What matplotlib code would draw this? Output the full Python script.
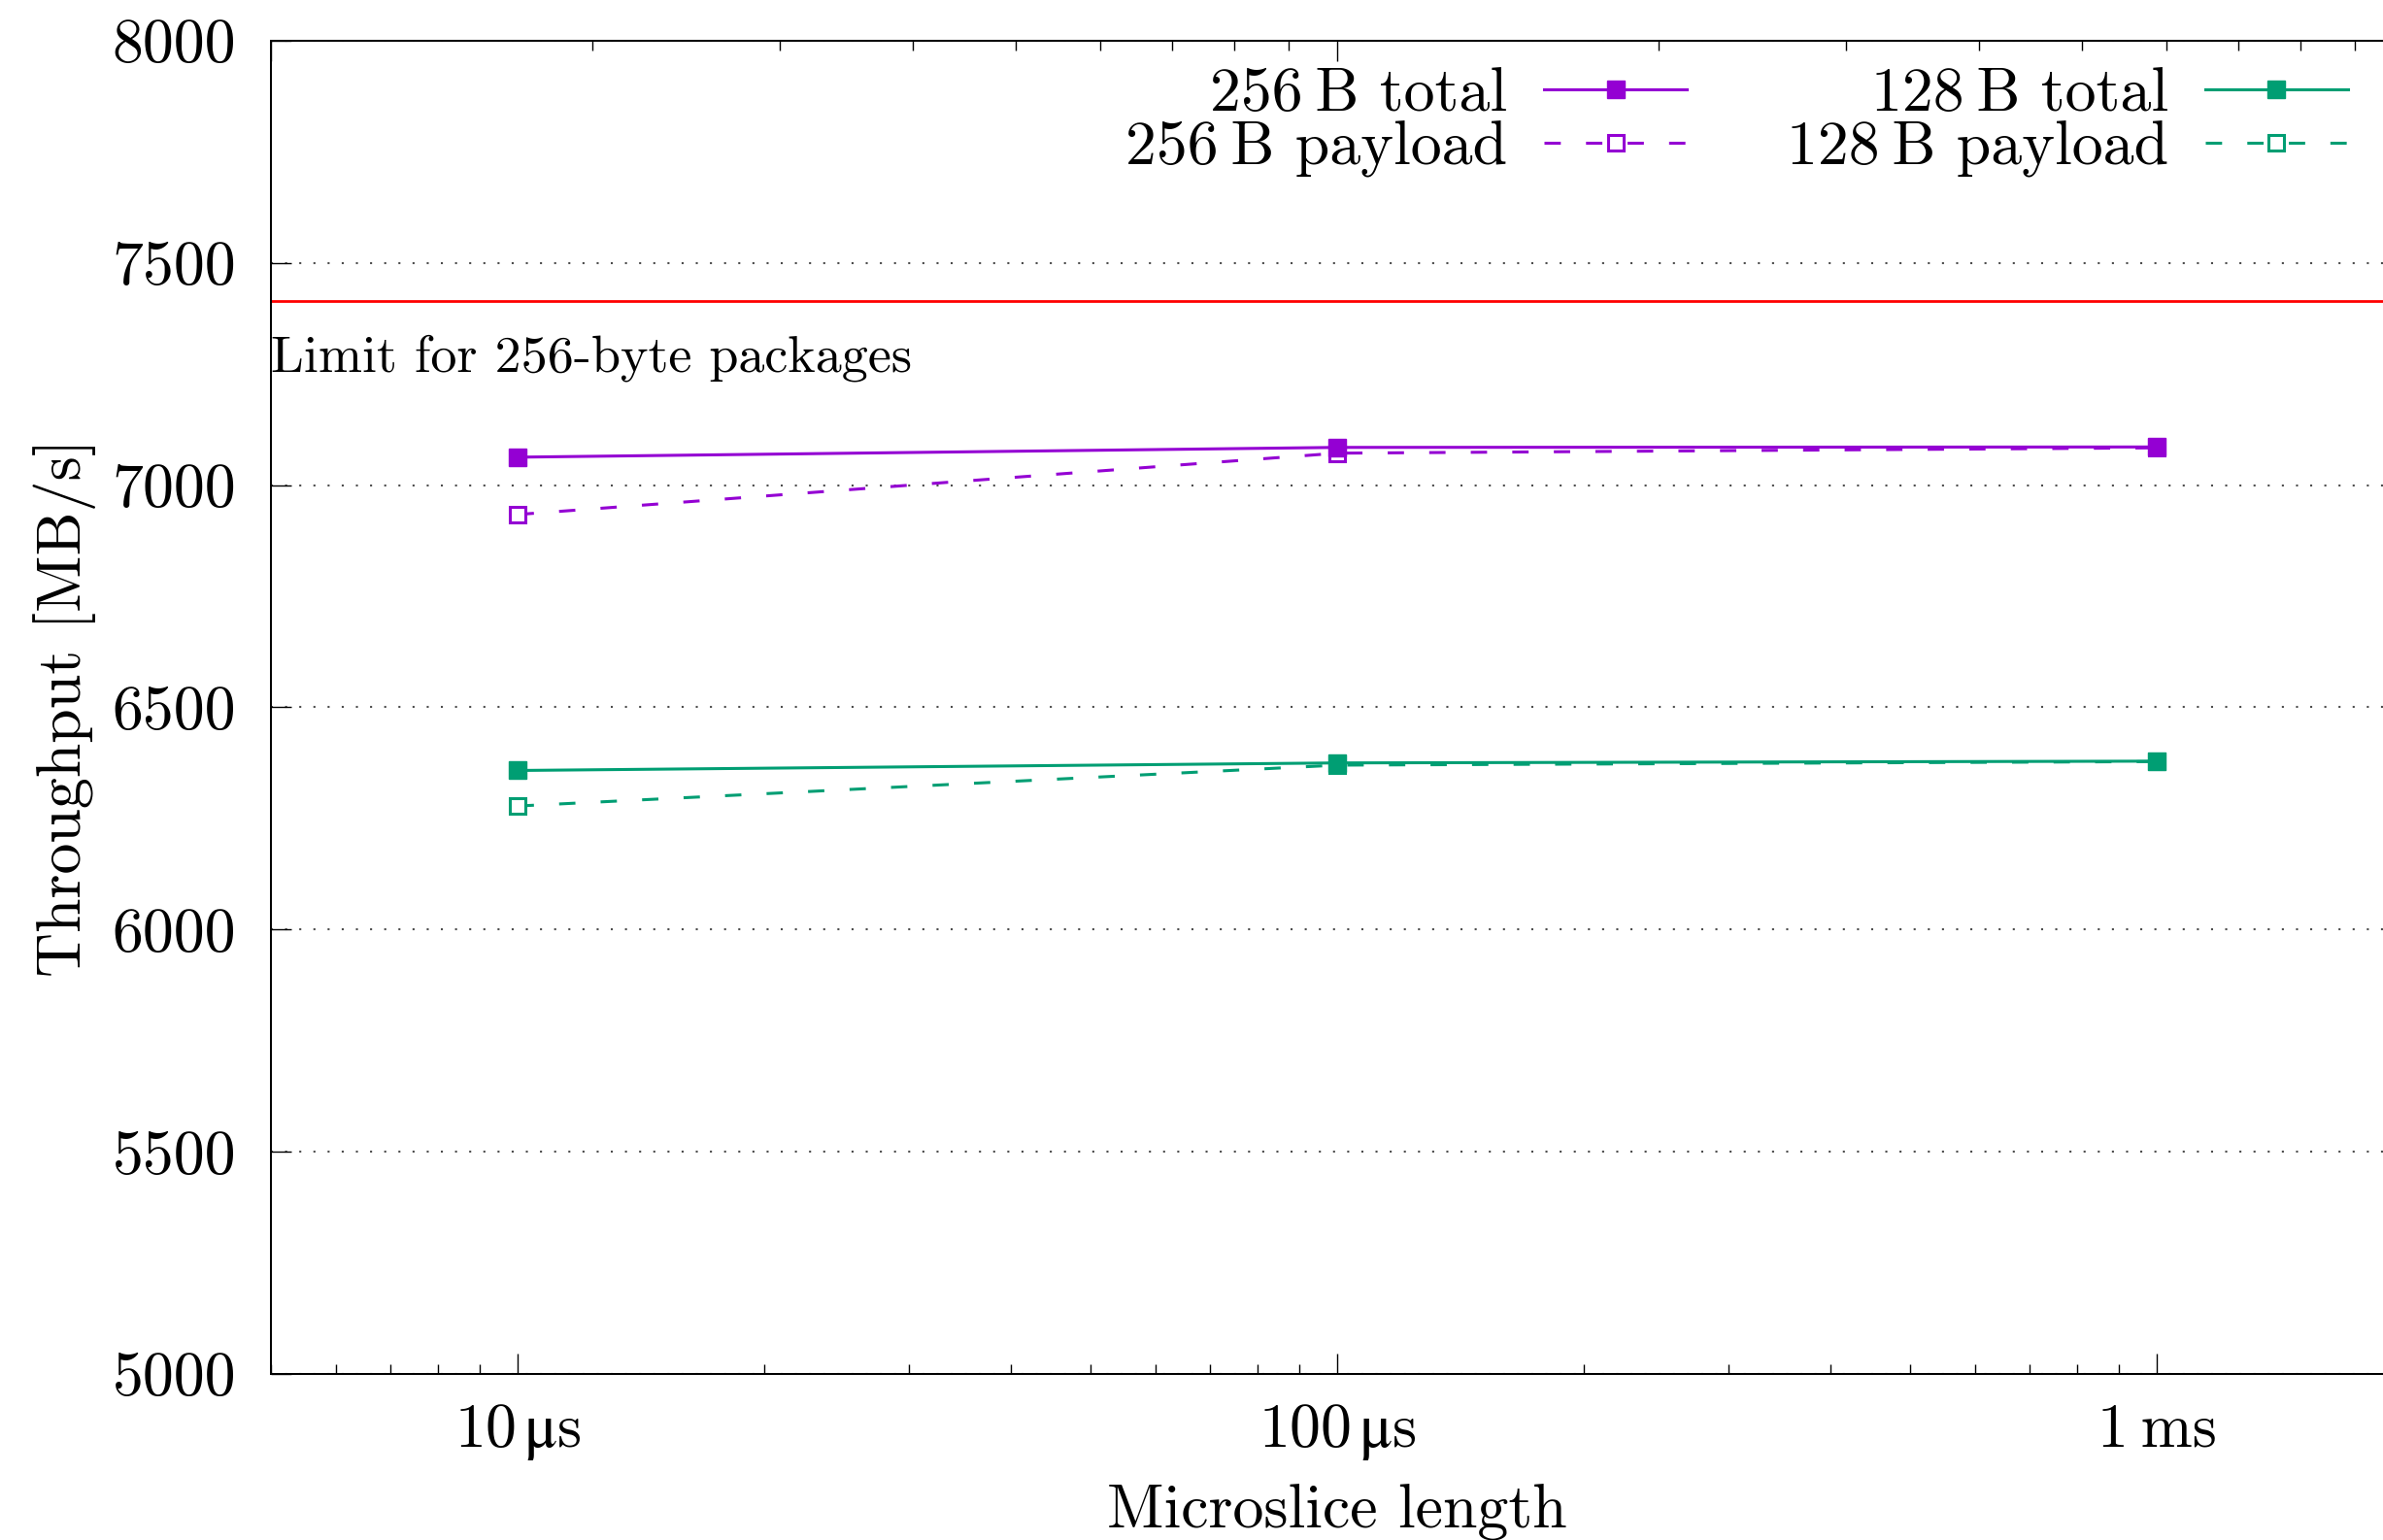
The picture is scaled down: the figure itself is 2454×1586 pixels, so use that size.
import matplotlib
matplotlib.use("Agg")
import matplotlib.pyplot as plt
from matplotlib.ticker import LogLocator, NullFormatter

# microslice length in seconds
slice_len = [1e-5, 1e-4, 1e-3]
x_tick_labels = ["10$\\,\\mathrm{\\mu}$s", "100$\\,\\mathrm{\\mu}$s", "1\u2009ms"]

# throughput in MB/s
tp_256_total = [7063, 7085, 7086]
tp_256_payload = [6934, 7072, 7084]
tp_128_total = [6358, 6375, 6379]
tp_128_payload = [6278, 6370, 6378]

limit_256 = 7414
y_ticks = [5000, 5500, 6000, 6500, 7000, 7500, 8000]

purple = "#9400d3"
green = "#009e73"

plt.rcParams["font.family"] = ["cmr10", "DejaVu Serif"]
plt.rcParams["axes.formatter.use_mathtext"] = True
# only the micro sign goes through mathtext, upright like siunitx
plt.rcParams["mathtext.fontset"] = "stix"

W, H = 2454, 1586
fig = plt.figure(figsize=(W / 100, H / 100), dpi=100)
# right border of the plot sits just outside the picture, like in the original
ax = fig.add_axes([279 / W, 171 / H, 2196 / W, 1373 / H])

lw = 2.2
dash = (0, (5.5, 8.5))
ax.plot(slice_len, tp_256_total, color=purple, lw=lw, marker="s", ms=13,
        label="256\u2009B total", zorder=4)
ax.plot(slice_len, tp_256_payload, color=purple, lw=lw, ls=dash, marker="s", ms=12,
        mfc="white", mec=purple, mew=2.2, label="256\u2009B payload", zorder=3)
ax.plot(slice_len, tp_128_total, color=green, lw=lw, marker="s", ms=13,
        label="128\u2009B total", zorder=4)
ax.plot(slice_len, tp_128_payload, color=green, lw=lw, ls=dash, marker="s", ms=12,
        mfc="white", mec=green, mew=2.2, label="128\u2009B payload", zorder=3)

ax.axhline(limit_256, color="red", lw=2.0)
ax.text(5e-6, 7257, "Limit for 256-byte packages", fontsize=39, ha="left", va="baseline")

ax.set_xscale("log")
ax.set_xlim(5e-6, 2e-3)
ax.set_ylim(5000, 8000)
ax.set_xticks(slice_len, x_tick_labels)
ax.xaxis.set_minor_locator(LogLocator(subs=range(2, 10)))
ax.xaxis.set_minor_formatter(NullFormatter())
ax.set_yticks(y_ticks, [str(v) for v in y_ticks])

ax.tick_params(axis="x", which="major", direction="in", length=15, width=1.0,
               labelsize=46, pad=21, top=False)
ax.tick_params(axis="x", which="minor", direction="in", length=7.5, width=1.0, top=False)
ax.tick_params(axis="y", which="major", direction="in", length=15, width=1.0,
               labelsize=46, pad=26, right=False)

ax.yaxis.grid(True, color="0.3", ls=(0, (1, 6)), lw=1.5)

for s in ax.spines.values():
    s.set_linewidth(1.4)

ax.set_xlabel("Microslice length", fontsize=46, va="top")
ax.xaxis.set_label_coords(0.5, -0.083)
ax.set_ylabel("Throughput [MB/s]", fontsize=46)
ax.yaxis.set_label_coords(-0.082, 0.5)

# mirrored top axis has its own log scale in gnuplot
ax2 = ax.twiny()
ax2.set_xscale("log")
ax2.set_xlim(1, 100)
ax2.xaxis.set_minor_locator(LogLocator(subs=range(2, 10)))
ax2.xaxis.set_minor_formatter(NullFormatter())
ax2.tick_params(axis="x", which="major", direction="in", length=15, width=1.0, labeltop=False)
ax2.tick_params(axis="x", which="minor", direction="in", length=7.5, width=1.0)
for s in ax2.spines.values():
    s.set_linewidth(1.4)

ax.legend(ncol=2, loc="upper right", bbox_to_anchor=(0.974, 0.980), frameon=False,
          fontsize=46, markerfirst=False, handlelength=2.3, handletextpad=0.6,
          columnspacing=1.6, labelspacing=-0.05, borderpad=0, borderaxespad=0,
          numpoints=1)

fig.savefig("out.png", dpi=100)
